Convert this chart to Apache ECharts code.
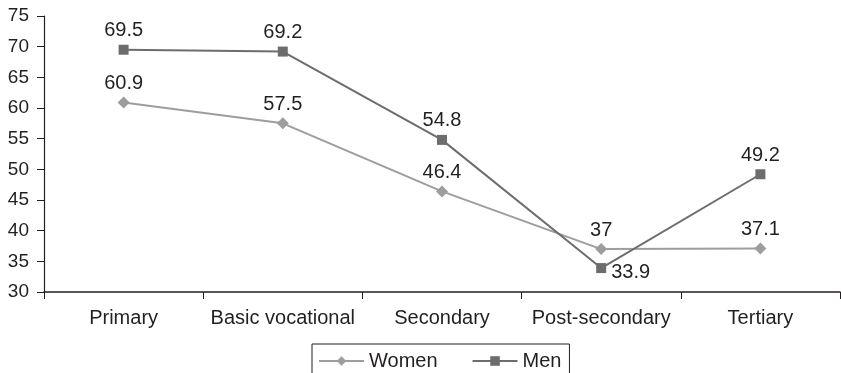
<!DOCTYPE html>
<html>
<head>
<meta charset="utf-8">
<script src="https://cdn.jsdelivr.net/npm/echarts@6/dist/echarts.min.js"></script>
<style>
  html, body { margin: 0; padding: 0; background: #fff; }
  #chart { width: 841px; height: 373px; }
</style>
</head>
<body>
<div id="chart"></div>
<script>
// Education levels along the x axis
const categories = ['Primary', 'Basic vocational', 'Secondary', 'Post-secondary', 'Tertiary'];
// Values per group
const women = [60.9, 57.5, 46.4, 37, 37.1];
const men = [69.5, 69.2, 54.8, 33.9, 49.2];
// Value axis range
const yMin = 30, yMax = 75, yStep = 5;

const FONT = 'Liberation Sans, Arial, sans-serif';
const TEXT = '#231f20';

const chart = echarts.init(document.getElementById('chart'));

const labelBase = {
  show: true,
  position: 'top',
  color: TEXT,
  fontSize: 20,
  fontFamily: FONT
};

chart.setOption({
  animation: false,
  grid: { left: 44, right: 1, top: 16, bottom: 81 },
  xAxis: {
    type: 'category',
    data: categories,
    boundaryGap: true,
    axisLine: { lineStyle: { color: TEXT, width: 1.5 } },
    axisTick: { show: true, length: 7, inside: false, lineStyle: { color: TEXT } },
    axisLabel: { color: TEXT, fontSize: 20, fontFamily: FONT, margin: 16, interval: 0 }
  },
  yAxis: {
    type: 'value',
    min: yMin,
    max: yMax,
    interval: yStep,
    axisLine: { show: true, lineStyle: { color: TEXT, width: 1.2 } },
    axisTick: { show: true, length: 7, lineStyle: { color: TEXT } },
    splitLine: { show: false },
    axisLabel: { color: TEXT, fontSize: 19, fontFamily: FONT, margin: 15 }
  },
  legend: {
    top: 344,
    left: 312,
    data: ['Women', 'Men'],
    itemWidth: 45,
    itemHeight: 12,
    itemGap: 34,
    padding: [7, 8, 10, 6],
    borderColor: TEXT,
    borderWidth: 1,
    borderRadius: 0,
    textStyle: { color: TEXT, fontSize: 20, fontFamily: FONT }
  },
  series: [
    {
      name: 'Women',
      type: 'line',
      data: women,
      symbol: 'diamond',
      symbolSize: 12,
      itemStyle: { color: '#9d9d9d' },
      lineStyle: { color: '#9d9d9d', width: 2 },
      label: Object.assign({ distance: 3 }, labelBase)
    },
    {
      name: 'Men',
      type: 'line',
      // the post-secondary value sits below the women's line, so its label goes to the right
      data: men.map((v, i) => i === 3
        ? { value: v, label: { position: 'right', offset: [-1, 4], distance: 6 } }
        : v),
      symbol: 'rect',
      symbolSize: 10,
      itemStyle: { color: '#6d6d6f' },
      lineStyle: { color: '#6d6d6f', width: 2 },
      label: Object.assign({ distance: 4 }, labelBase)
    }
  ]
});
</script>
</body>
</html>
